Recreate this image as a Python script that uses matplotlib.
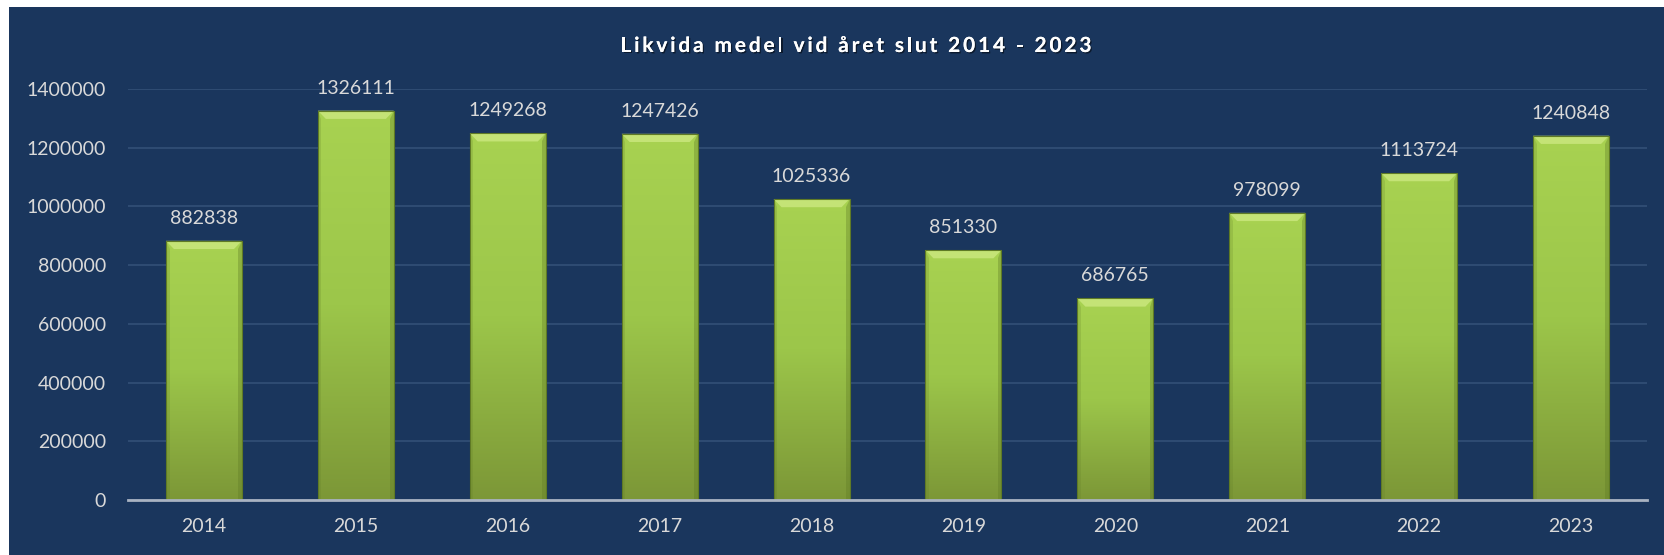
import numpy as np
import matplotlib.pyplot as plt
from matplotlib.patches import Rectangle, Polygon
from matplotlib.colors import LinearSegmentedColormap
from matplotlib import font_manager
from matplotlib.ft2font import FT2Font
import matplotlib.patheffects as pe

# data
years = ['2014', '2015', '2016', '2017', '2018', '2019', '2020', '2021', '2022', '2023']
values = [882838, 1326111, 1249268, 1247426, 1025336, 851330, 686765, 978099, 1113724, 1240848]
yticks = [0, 200000, 400000, 600000, 800000, 1000000, 1200000, 1400000]
title = 'Likvida medel vid året slut 2014 - 2023'

navy = '#1a365d'
txt = '#d9d9d9'
fam = ['Lato', 'DejaVu Sans']

plt.rcParams['font.family'] = fam

W, H = 1665, 555
fig = plt.figure(figsize=(W / 100, H / 100), dpi=100, facecolor='white')
# navy panel (thin white strip left and top as in the original)
fig.patches.append(Rectangle((9 / W, 0), 1 - 9 / W, 1 - 7 / H, transform=fig.transFigure,
                             facecolor=navy, edgecolor='none', zorder=-10))

ax = fig.add_axes([128 / W, 1 - 500 / H, (1647 - 128) / W, (500 - 89) / H])
ax.set_facecolor('none')

x = np.arange(len(years))
bars = ax.bar(x, values, width=0.5, color='none', edgecolor='#5f7a25', linewidth=0.8, zorder=3)

# gradient fill + bevel at the top of each bar
cmap = LinearSegmentedColormap.from_list('g', ['#7c9737', '#9cc64a', '#a8d251'])
grad = np.linspace(0, 1, 256).reshape(-1, 1)
bev_y = 28000
for b in bars:
    bx, bw, bh = b.get_x(), b.get_width(), b.get_height()
    im = ax.imshow(grad, extent=[bx, bx + bw, 0, bh], origin='lower', cmap=cmap,
                   aspect='auto', zorder=2)
    im.set_clip_path(b)
    dx = bw * 0.105
    ax.add_patch(Polygon([(bx, bh), (bx + bw, bh), (bx + bw - dx, bh - bev_y), (bx + dx, bh - bev_y)],
                         closed=True, facecolor='#c4e376', edgecolor='none', zorder=2.5))
    sx = dx * 0.45
    ax.add_patch(Polygon([(bx + bw, bh), (bx + bw, 0), (bx + bw - sx, 0), (bx + bw - sx, bh - bev_y)],
                         closed=True, facecolor='#5f7a25', edgecolor='none', alpha=0.35, zorder=2.5))
    ax.add_patch(Polygon([(bx, bh), (bx, 0), (bx + sx, 0), (bx + sx, bh - bev_y)],
                         closed=True, facecolor='#5f7a25', edgecolor='none', alpha=0.2, zorder=2.5))
    ax.annotate(f'{int(bh)}', (bx + bw / 2, bh), xytext=(0, 10), textcoords='offset points',
                ha='center', va='bottom', fontsize=14, color=txt, annotation_clip=False)

ax.set_xlim(-0.5, len(years) - 0.5)
ax.set_ylim(0, 1400000)
ax.set_yticks(yticks)
ax.set_yticklabels([str(v) for v in yticks])
ax.set_xticks(x)
ax.set_xticklabels(years)
ax.tick_params(axis='both', length=0, labelsize=14, labelcolor=txt)
ax.tick_params(axis='y', pad=16)
ax.tick_params(axis='x', pad=13)
ax.grid(axis='y', color='#2e4b72', linewidth=1.5, zorder=0)
ax.set_axisbelow(True)
for s in ['top', 'right', 'left']:
    ax.spines[s].set_visible(False)
ax.spines['bottom'].set_color('#a9b3c2')
ax.spines['bottom'].set_linewidth(2)
ax.spines['bottom'].set_zorder(4)

# title with letter spacing: place each character by its glyph advance
tsize = 15
fp = font_manager.FontProperties(family='Lato', weight='bold', size=tsize)
ft = FT2Font(font_manager.findfont(fp))
ft.set_size(tsize, 100)
adv = [ft.load_char(ord(c)).linearHoriAdvance / 65536 for c in title]
target = 471
track = (target - sum(adv)) / (len(title) - 1)
xpos = 856 - target / 2
shadow = [pe.withSimplePatchShadow(offset=(1, -1), shadow_rgbFace='black', alpha=0.5), pe.Normal()]
for c, a in zip(title, adv):
    if c != ' ':
        fig.text(xpos / W, 1 - 52 / H, c, ha='left', va='baseline', fontproperties=fp,
                 color='white', path_effects=shadow)
    xpos += a + track

fig.savefig('out.png', dpi=100, facecolor=fig.get_facecolor())
